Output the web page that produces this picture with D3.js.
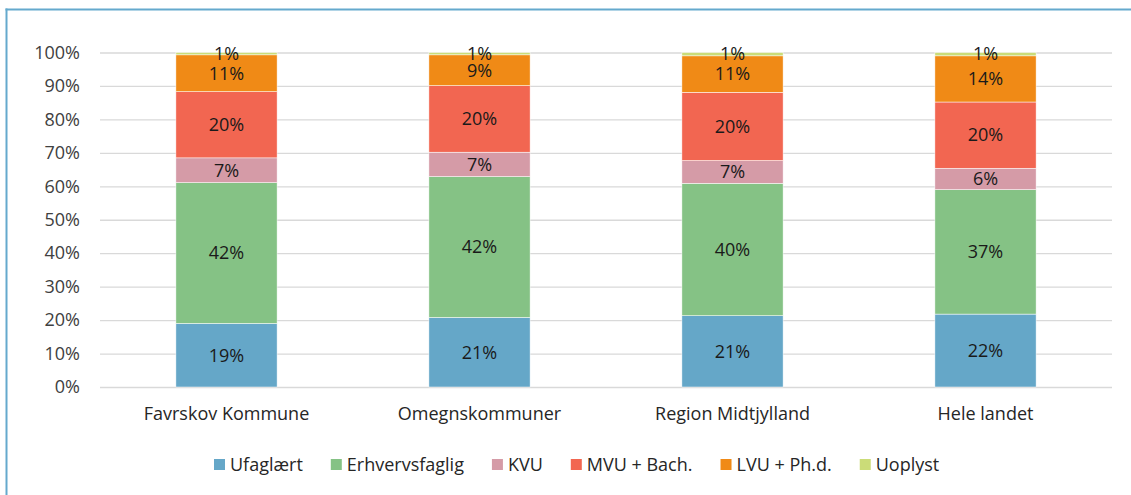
<!DOCTYPE html>
<html>
<head>
<meta charset="utf-8">
<script src="https://cdn.jsdelivr.net/npm/d3@7"></script>
<style>
    body { margin: 0; background: #fff; }
    text { font-family: "Open Sans", sans-serif; }
</style>
</head>
<body>
<div id="chart"></div>
<script>
// data - andel i procent
const kategorier = ["Favrskov Kommune", "Omegnskommuner", "Region Midtjylland", "Hele landet"];
const serier = ["Ufaglært", "Erhvervsfaglig", "KVU", "MVU + Bach.", "LVU + Ph.d.", "Uoplyst"];
const ufaglaert = [19.0, 20.8, 21.3, 21.8];
const erhvervsfaglig = [42.1, 42.1, 39.6, 37.2];
const kvu = [7.4, 7.3, 6.8, 6.4];
const mvu = [19.8, 19.9, 20.4, 19.8];
const lvu = [11.0, 9.2, 10.9, 13.8];
const uoplyst = [0.7, 0.7, 1.0, 1.0];
const yTicks = [0, 10, 20, 30, 40, 50, 60, 70, 80, 90, 100];

const farver = ["#65a7c8", "#85c285", "#d59ba7", "#f26651", "#f08a16", "#cbdc78"];

const width = 1131,
    height = 495,
    fontSize = "18px",
    margin = {top: 52.5, right: 19, bottom: 108, left: 100};

const alleVaerdier = [ufaglaert, erhvervsfaglig, kvu, mvu, lvu, uoplyst];

// byg tabel til d3.stack
const tabel = kategorier.map((k, i) => {
    let row = {kategori: k};
    serier.forEach((s, j) => { row[s] = alleVaerdier[j][i]; });
    return row;
});

const stacked = d3.stack().keys(serier)(tabel);

let svg = d3.select("#chart")
    .append("svg")
    .attr("width", width)
    .attr("height", height);

// ramme (top + venstre)
svg.append("line")
    .attr("x1", 5.5).attr("x2", width)
    .attr("y1", 9.5).attr("y2", 9.5)
    .attr("stroke", "#65a9cd").attr("stroke-width", 2);
svg.append("line")
    .attr("x1", 6.5).attr("x2", 6.5)
    .attr("y1", 8.5).attr("y2", height)
    .attr("stroke", "#65a9cd").attr("stroke-width", 2);

let x = d3.scaleBand()
    .domain(kategorier)
    .range([margin.left, width - margin.right])
    .paddingInner(0.6)
    .paddingOuter(0.3);

let y = d3.scaleLinear()
    .domain([0, 100])
    .range([height - margin.bottom, margin.top]);

// y-akse med gitterlinjer
let yAxis = svg.append("g")
    .attr("transform", `translate(${margin.left},0)`)
    .call(d3.axisLeft(y)
        .tickValues(yTicks)
        .tickFormat(d => d + "%")
        .tickSize(-(width - margin.left - margin.right))
        .tickPadding(20));
yAxis.select(".domain").remove();
yAxis.selectAll(".tick line")
    .attr("stroke", "#d9d9d9")
    .attr("stroke-width", 1.3);
yAxis.selectAll(".tick text")
    .attr("fill", "#404040")
    .style("font-size", fontSize);

// x-akse
let xAxis = svg.append("g")
    .attr("transform", `translate(0,${height - margin.bottom})`)
    .call(d3.axisBottom(x).tickSize(0).tickPadding(20));
xAxis.select(".domain").remove();
xAxis.selectAll(".tick text")
    .attr("fill", "#262626")
    .style("font-size", fontSize);

// søjler
let lag = svg.selectAll("g.lag")
    .data(stacked)
    .enter().append("g")
    .attr("class", "lag")
    .attr("fill", (d, i) => farver[i]);

lag.selectAll("rect")
    .data(d => d)
    .enter().append("rect")
    .attr("x", d => x(d.data.kategori))
    .attr("y", d => y(d[1]))
    .attr("width", x.bandwidth())
    .attr("height", d => y(d[0]) - y(d[1]))
    .attr("stroke", "#ffffff")
    .attr("stroke-width", 0.5);

// dataetiketter
lag.selectAll("text")
    .data(d => d)
    .enter().append("text")
    .attr("x", d => x(d.data.kategori) + x.bandwidth() / 2)
    .attr("y", d => (y(d[0]) + y(d[1])) / 2)
    .attr("dy", "0.35em")
    .attr("text-anchor", "middle")
    .attr("fill", "#1a1a1a")
    .style("font-size", fontSize)
    .text(d => d3.format(".0f")(d[1] - d[0]) + "%");

// signaturforklaring
let legend = svg.append("g")
    .attr("transform", "translate(214,459)");
let lx = 0;
serier.forEach((s, i) => {
    let item = legend.append("g").attr("transform", `translate(${lx},0)`);
    item.append("rect")
        .attr("width", 11)
        .attr("height", 11)
        .attr("fill", farver[i]);
    let t = item.append("text")
        .attr("x", 16)
        .attr("y", 5.5)
        .attr("dy", "0.35em")
        .attr("fill", "#262626")
        .style("font-size", fontSize)
        .text(s);
    lx += 16 + t.node().getComputedTextLength() + 28;
});
</script>
</body>
</html>
